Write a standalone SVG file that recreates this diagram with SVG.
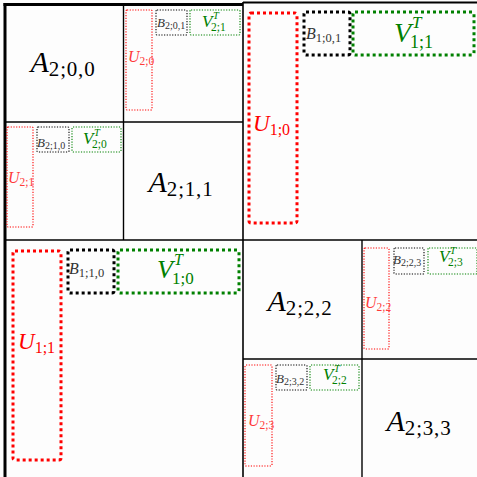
<svg xmlns="http://www.w3.org/2000/svg" width="477" height="477" viewBox="0 0 477 477">
<style>
.bg{fill:#fdfdfd}
.grid line{stroke:#000;stroke-width:1.4}
.t{font-family:"Liberation Serif","Times New Roman",serif}
.i{font-style:italic}
.l1{fill:none;stroke-width:3;stroke-dasharray:3 3}
.l2{fill:none;stroke-width:1.1;stroke-dasharray:1.2 1.5}
.r{stroke:#ff0000}
.k{stroke:#000}
.g{stroke:#008000}
.tr{fill:#ff0000}
.tr2{fill:#ff3a3a}
.tk{fill:#000}
.tk2{fill:#333}
.tg{fill:#008000}
</style>
<rect class="bg" x="0" y="0" width="477" height="477"/>
<g id="connectors" class="grid">
<line x1="5" y1="3" x2="5" y2="477" style="stroke-width:3"/>
<line x1="3.5" y1="4.5" x2="243" y2="4.5" style="stroke-width:3"/>
<line x1="243" y1="2.5" x2="477" y2="2.5" style="stroke-width:2"/>
<line x1="123.5" y1="4" x2="123.5" y2="240"/>
<line x1="5" y1="122" x2="243" y2="122"/>
<line x1="243" y1="2" x2="243" y2="477" style="stroke-width:1.6"/>
<line x1="5" y1="240" x2="477" y2="240" style="stroke-width:1.6"/>
<line x1="362" y1="240" x2="362" y2="477"/>
<line x1="243" y1="359" x2="477" y2="359"/>
</g>

<g id="A200"><text class="t tk" x="63" y="72" text-anchor="middle" font-size="30"><tspan class="i">A</tspan><tspan font-size="21" dy="4" letter-spacing="0.8">2;0,0</tspan></text></g>
<g id="A211"><text class="t tk" x="181" y="192" text-anchor="middle" font-size="30"><tspan class="i">A</tspan><tspan font-size="21" dy="4" letter-spacing="0.8">2;1,1</tspan></text></g>
<g id="A222"><text class="t tk" x="300" y="311" text-anchor="middle" font-size="30"><tspan class="i">A</tspan><tspan font-size="21" dy="4" letter-spacing="0.8">2;2,2</tspan></text></g>
<g id="A233"><text class="t tk" x="419" y="431" text-anchor="middle" font-size="30"><tspan class="i">A</tspan><tspan font-size="21" dy="4" letter-spacing="0.8">2;3,3</tspan></text></g>

<!-- level 1 -->
<g id="U10"><rect class="l1 r" x="249" y="13" width="48" height="210" rx="2"/>
<text class="t tr" x="253" y="130.5" font-size="23"><tspan class="i">U</tspan><tspan font-size="16" dy="4">1;0</tspan></text></g>
<g id="B101"><rect class="l1 k" x="304" y="12" width="46" height="43" rx="2"/>
<text class="t tk2" x="306" y="39" font-size="16"><tspan class="i">B</tspan><tspan font-size="12.5" dy="3">1;0,1</tspan></text></g>
<g id="V11"><rect class="l1 g" x="353" y="12" width="121" height="43" rx="2"/>
<text class="t tg" x="394" y="42" font-size="28"><tspan class="i">V</tspan></text>
<text class="t tg i" x="412" y="28" font-size="17">T</text>
<text class="t tg" x="410" y="48" font-size="18">1;1</text></g>

<g id="U11"><rect class="l1 r" x="13" y="251" width="48" height="209" rx="2"/>
<text class="t tr" x="18" y="349" font-size="23"><tspan class="i">U</tspan><tspan font-size="16" dy="4">1;1</tspan></text></g>
<g id="B110"><rect class="l1 k" x="68" y="250" width="46" height="43" rx="2"/>
<text class="t tk2" x="69" y="274" font-size="16"><tspan class="i">B</tspan><tspan font-size="12.5" dy="3">1;1,0</tspan></text></g>
<g id="V10"><rect class="l1 g" x="118" y="250" width="121" height="43" rx="2"/>
<text class="t tg" x="157" y="278" font-size="26"><tspan class="i">V</tspan></text>
<text class="t tg i" x="174" y="265" font-size="16">T</text>
<text class="t tg" x="172" y="284" font-size="17">1;0</text></g>

<!-- level 2 -->
<g id="U20"><rect class="l2 r" x="126" y="10" width="26" height="100" rx="1"/>
<text class="t tr2" x="128" y="62" font-size="16"><tspan class="i">U</tspan><tspan font-size="11.5" dy="3">2;0</tspan></text></g>
<g id="B201"><rect class="l2 k" x="156" y="10" width="31" height="25" rx="1"/>
<text class="t tk2" x="157" y="27" font-size="13"><tspan class="i">B</tspan><tspan font-size="10" dy="2">2;0,1</tspan></text></g>
<g id="V21"><rect class="l2 g" x="190" y="10" width="50" height="25" rx="1"/>
<text class="t tg" x="202" y="27" font-size="17"><tspan class="i">V</tspan></text>
<text class="t tg i" x="213" y="19" font-size="10.5">T</text>
<text class="t tg" x="211" y="31" font-size="11.5">2;1</text></g>

<g id="U21"><rect class="l2 r" x="7" y="127" width="26" height="100" rx="1"/>
<text class="t tr2" x="8" y="183" font-size="16"><tspan class="i">U</tspan><tspan font-size="11.5" dy="3">2;1</tspan></text></g>
<g id="B210"><rect class="l2 k" x="37" y="127" width="32" height="25" rx="1"/>
<text class="t tk2" x="37" y="147" font-size="13"><tspan class="i">B</tspan><tspan font-size="10" dy="2">2;1,0</tspan></text></g>
<g id="V20"><rect class="l2 g" x="72" y="127" width="49" height="25" rx="1"/>
<text class="t tg" x="83" y="144" font-size="17"><tspan class="i">V</tspan></text>
<text class="t tg i" x="94" y="136" font-size="10.5">T</text>
<text class="t tg" x="92" y="148" font-size="11.5">2;0</text></g>

<g id="U22"><rect class="l2 r" x="364" y="248" width="25" height="101" rx="1"/>
<text class="t tr2" x="365" y="308" font-size="16"><tspan class="i">U</tspan><tspan font-size="11.5" dy="3">2;2</tspan></text></g>
<g id="B223"><rect class="l2 k" x="394" y="248" width="30" height="26" rx="1"/>
<text class="t tk2" x="393" y="264" font-size="13"><tspan class="i">B</tspan><tspan font-size="10" dy="2">2;2,3</tspan></text></g>
<g id="V23"><rect class="l2 g" x="428" y="248" width="49" height="26" rx="1"/>
<text class="t tg" x="439" y="262" font-size="17"><tspan class="i">V</tspan></text>
<text class="t tg i" x="450" y="254" font-size="10.5">T</text>
<text class="t tg" x="448" y="266" font-size="11.5">2;3</text></g>

<g id="U23"><rect class="l2 r" x="245" y="365" width="27" height="101" rx="1"/>
<text class="t tr2" x="248" y="426" font-size="16"><tspan class="i">U</tspan><tspan font-size="11.5" dy="3">2;3</tspan></text></g>
<g id="B232"><rect class="l2 k" x="276" y="365" width="31" height="25" rx="1"/>
<text class="t tk2" x="276" y="383" font-size="13"><tspan class="i">B</tspan><tspan font-size="10" dy="2">2;3,2</tspan></text></g>
<g id="V22"><rect class="l2 g" x="310" y="365" width="49" height="25" rx="1"/>
<text class="t tg" x="323" y="380" font-size="17"><tspan class="i">V</tspan></text>
<text class="t tg i" x="334" y="372" font-size="10.5">T</text>
<text class="t tg" x="332" y="384" font-size="11.5">2;2</text></g>
</svg>
